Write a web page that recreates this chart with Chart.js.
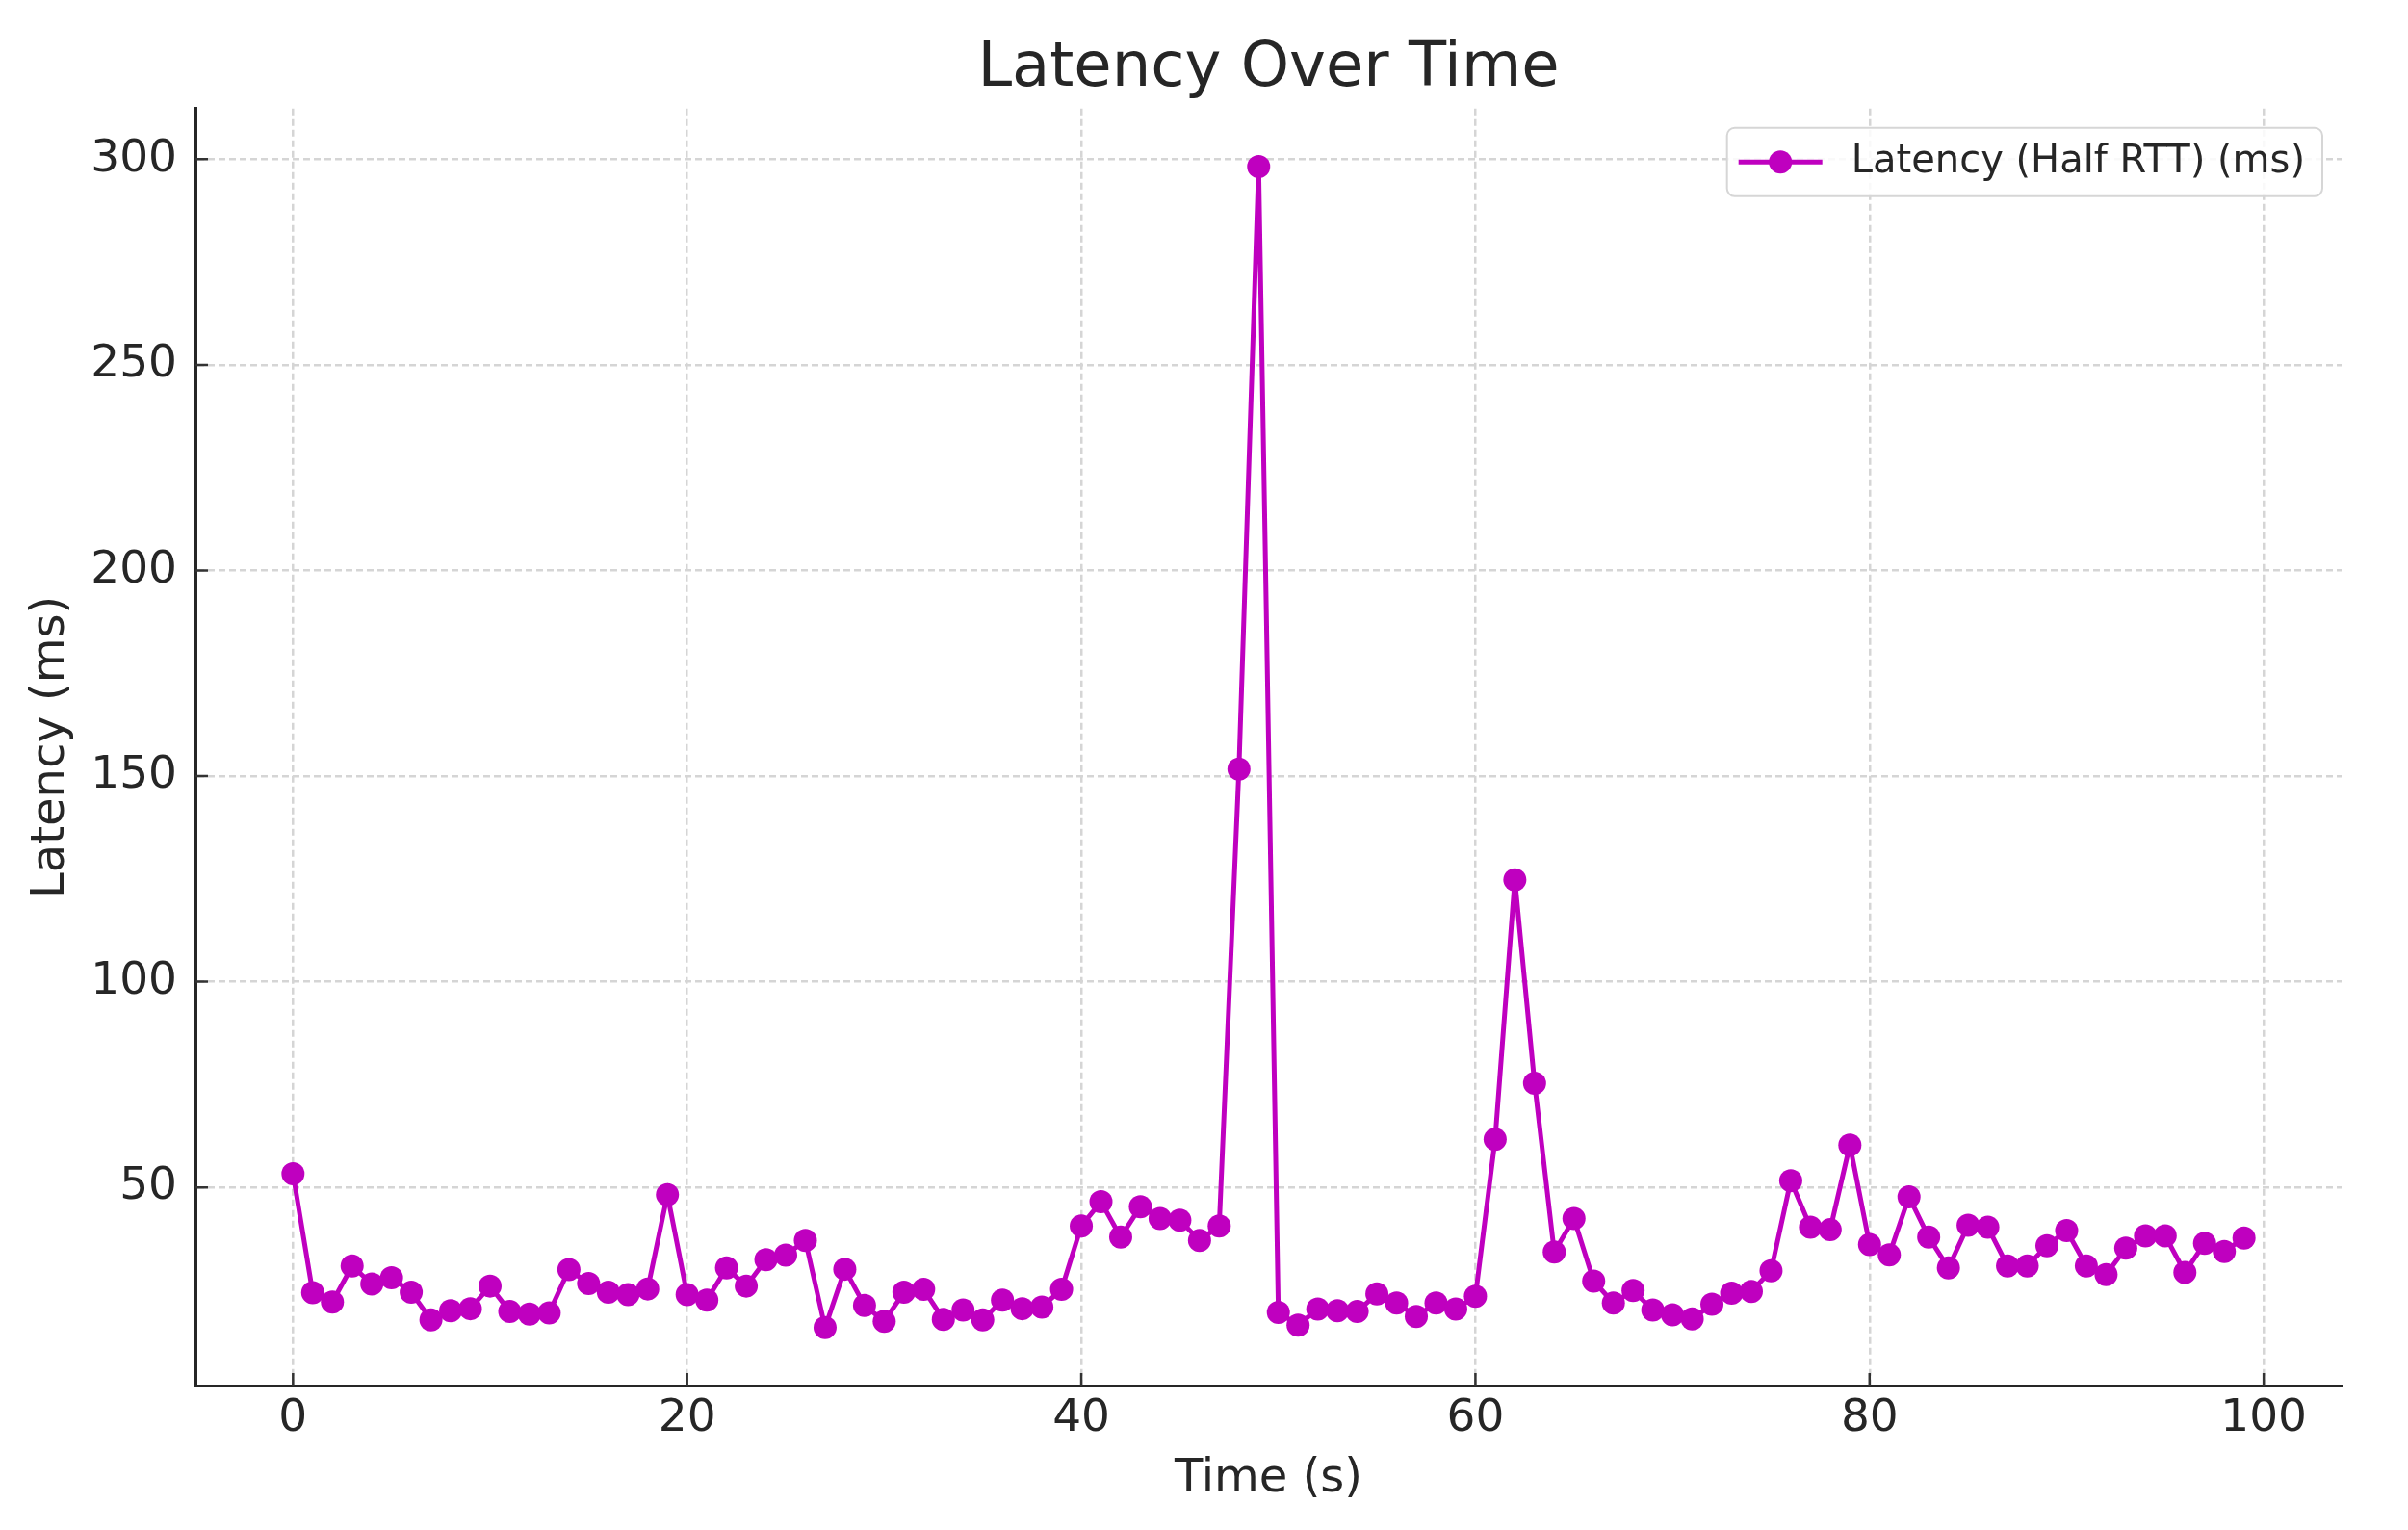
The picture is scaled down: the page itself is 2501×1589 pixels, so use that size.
<!DOCTYPE html>
<html>
<head>
<meta charset="utf-8">
<title>Latency Over Time</title>
<script src="https://cdn.jsdelivr.net/npm/chart.js@4.4.1/dist/chart.umd.min.js"></script>
<style>
  html, body { margin: 0; padding: 0; background: #ffffff; }
  #wrap { width: 2501px; height: 1589px; }
</style>
</head>
<body>
<div id="wrap"><canvas id="latencyChart"></canvas></div>
<script>
// time in seconds
const times = [
  0, 1, 2, 3, 4, 5, 6, 7, 8, 9,
  10, 11, 12, 13, 14, 15, 16, 17, 18, 19,
  20, 21, 22, 23, 24, 25, 26, 27, 28, 29,
  30, 31, 32, 33, 34, 35, 36, 37, 38, 39,
  40, 41, 42, 43, 44, 45, 46, 47, 48, 49,
  50, 51, 52, 53, 54, 55, 56, 57, 58, 59,
  60, 61, 62, 63, 64, 65, 66, 67, 68, 69,
  70, 71, 72, 73, 74, 75, 76, 77, 78, 79,
  80, 81, 82, 83, 84, 85, 86, 87, 88, 89,
  90, 91, 92, 93, 94, 95, 96, 97, 98, 99
];

// half RTT latency, ms
const latency = [
  53.3, 24.4, 22.1, 30.9, 26.5, 28.0, 24.5, 17.8, 20.0, 20.5,
  26.0, 19.8, 19.2, 19.5, 30.0, 26.6, 24.5, 23.9, 25.3, 48.2,
  23.9, 22.6, 30.4, 26.0, 32.4, 33.5, 37.1, 15.9, 30.1, 21.3,
  17.4, 24.5, 25.2, 17.9, 20.2, 17.8, 22.6, 20.5, 20.9, 25.2,
  40.6, 46.5, 37.9, 45.3, 42.4, 42.0, 37.1, 40.6, 151.7, 298.2,
  19.6, 16.5, 20.4, 20.0, 19.8, 24.1, 21.9, 18.6, 21.9, 20.4,
  23.5, 61.7, 124.8, 75.3, 34.3, 42.4, 27.2, 21.9, 24.9, 20.2,
  19.0, 18.0, 21.6, 24.3, 24.7, 29.7, 51.6, 40.3, 39.7, 60.3,
  36.1, 33.6, 47.7, 37.9, 30.4, 40.8, 40.3, 30.9, 30.9, 35.8,
  39.5, 30.9, 28.8, 35.2, 38.2, 38.2, 29.3, 36.4, 34.4, 37.7
];

const xTicks = [0, 20, 40, 60, 80, 100];
const yTicks = [50, 100, 150, 200, 250, 300];

const lineColor = '#bf00bf';
const textColor = '#262626';
const gridColor = '#d5d5d5';
const font = 'DejaVu Sans';

// matplotlib style ticks pointing into the plot
const innerTicks = {
  id: 'innerTicks',
  beforeDatasetsDraw(chart) {
    const {ctx, chartArea, scales} = chart;
    ctx.save();
    ctx.strokeStyle = '#333333';
    ctx.lineWidth = 2.5;
    ctx.beginPath();
    scales.x.ticks.forEach(t => {
      const px = scales.x.getPixelForValue(t.value);
      ctx.moveTo(px, chartArea.bottom);
      ctx.lineTo(px, chartArea.bottom - 13);
    });
    scales.y.ticks.forEach(t => {
      const py = scales.y.getPixelForValue(t.value);
      ctx.moveTo(chartArea.left, py);
      ctx.lineTo(chartArea.left + 13, py);
    });
    ctx.stroke();
    ctx.restore();
  }
};

// framed legend in the upper right corner, line + marker sample
const legendBox = {
  id: 'legendBox',
  afterDatasetsDraw(chart) {
    const {ctx, chartArea} = chart;
    const ds = chart.data.datasets[0];
    ctx.save();
    ctx.font = '40px "DejaVu Sans"';
    const tw = ctx.measureText(ds.label).width;
    const right = chartArea.right - 20;
    const top = chartArea.top + 20;
    const h = 71;
    const textX = right - 18 - tw;
    const lineX = textX - 117;
    const left = lineX - 12;
    const cy = top + h / 2;

    ctx.beginPath();
    ctx.roundRect(left, top, right - left, h, 8);
    ctx.fillStyle = 'rgba(255,255,255,0.85)';
    ctx.fill();
    ctx.strokeStyle = '#d6d6d6';
    ctx.lineWidth = 2;
    ctx.stroke();

    ctx.strokeStyle = ds.borderColor;
    ctx.lineWidth = ds.borderWidth;
    ctx.beginPath();
    ctx.moveTo(lineX, cy);
    ctx.lineTo(lineX + 87, cy);
    ctx.stroke();
    ctx.fillStyle = ds.pointBackgroundColor;
    ctx.beginPath();
    ctx.arc(lineX + 43.5, cy, ds.pointRadius, 0, Math.PI * 2);
    ctx.fill();

    ctx.fillStyle = textColor;
    ctx.textAlign = 'left';
    ctx.textBaseline = 'middle';
    ctx.fillText(ds.label, textX, cy);
    ctx.restore();
  }
};

const ctx = document.getElementById('latencyChart').getContext('2d');
new Chart(ctx, {
  type: 'line',
  data: {
    datasets: [{
      label: 'Latency (Half RTT) (ms)',
      data: times.map((t, i) => ({x: t, y: latency[i]})),
      borderColor: lineColor,
      backgroundColor: lineColor,
      borderWidth: 5,
      pointRadius: 12,
      pointBorderWidth: 0,
      pointBackgroundColor: lineColor,
      tension: 0,
      fill: false
    }]
  },
  options: {
    responsive: true,
    maintainAspectRatio: false,
    devicePixelRatio: 1,
    animation: false,
    events: [],
    layout: {
      padding: {left: 0, right: 69, top: 0, bottom: 0}
    },
    plugins: {
      title: {
        display: true,
        fullSize: false,
        text: 'Latency Over Time',
        color: textColor,
        font: {family: font, size: 64, weight: 'normal'},
        padding: {top: 34, bottom: 2}
      },
      legend: {display: false},
      tooltip: {enabled: false}
    },
    scales: {
      x: {
        type: 'linear',
        min: -4.95,
        max: 103.95,
        afterBuildTicks: axis => { axis.ticks = xTicks.map(v => ({value: v})); },
        afterFit: scale => { scale.height = 150; },
        ticks: {
          color: textColor,
          font: {family: font, size: 47},
          padding: 7,
          maxRotation: 0
        },
        grid: {
          color: gridColor,
          lineWidth: 2.5,
          drawTicks: false
        },
        border: {
          display: true,
          color: '#262626',
          width: 3,
          dash: [7, 4]
        },
        title: {
          display: true,
          text: 'Time (s)',
          color: textColor,
          font: {family: font, size: 48},
          padding: {top: 0, bottom: 24}
        }
      },
      y: {
        type: 'linear',
        min: 1.8,
        max: 312.3,
        afterBuildTicks: axis => { axis.ticks = yTicks.map(v => ({value: v})); },
        afterFit: scale => { scale.width = 203; },
        ticks: {
          color: textColor,
          font: {family: font, size: 47},
          padding: 19
        },
        grid: {
          color: gridColor,
          lineWidth: 2.5,
          drawTicks: false
        },
        border: {
          display: true,
          color: '#262626',
          width: 3,
          dash: [7, 4]
        },
        title: {
          display: true,
          text: 'Latency (ms)',
          color: textColor,
          font: {family: font, size: 48},
          padding: {top: 25, bottom: 0}
        }
      }
    }
  },
  plugins: [innerTicks, legendBox]
});
</script>
</body>
</html>
